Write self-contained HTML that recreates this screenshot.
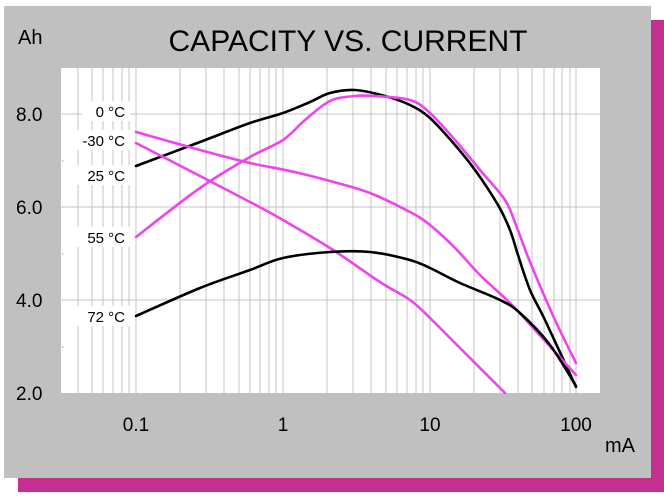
<!DOCTYPE html>
<html><head><meta charset="utf-8"><style>
body{margin:0;width:664px;height:496px;overflow:hidden;background:#fff;font-family:"Liberation Sans",sans-serif}
</style></head><body>
<svg width="664" height="496" viewBox="0 0 664 496" xmlns="http://www.w3.org/2000/svg" font-family="Liberation Sans, sans-serif">
<rect x="18" y="20" width="646" height="472" fill="#c3308f"/>
<rect x="4" y="6" width="647" height="472" fill="#c0c0c0"/>
<rect x="61" y="68" width="539" height="325" fill="#fff"/>
<g stroke="#c4c4c4" stroke-width="1">
<line x1="78" y1="68" x2="78" y2="393"/><line x1="92" y1="68" x2="92" y2="393"/><line x1="103" y1="68" x2="103" y2="393"/><line x1="113" y1="68" x2="113" y2="393"/><line x1="122" y1="68" x2="122" y2="393"/><line x1="129" y1="68" x2="129" y2="393"/><line x1="136" y1="68" x2="136" y2="393"/>
<line x1="180" y1="68" x2="180" y2="393"/><line x1="206" y1="68" x2="206" y2="393"/><line x1="224" y1="68" x2="224" y2="393"/><line x1="239" y1="68" x2="239" y2="393"/><line x1="250" y1="68" x2="250" y2="393"/><line x1="260" y1="68" x2="260" y2="393"/><line x1="269" y1="68" x2="269" y2="393"/><line x1="276" y1="68" x2="276" y2="393"/><line x1="283" y1="68" x2="283" y2="393"/>
<line x1="327" y1="68" x2="327" y2="393"/><line x1="353" y1="68" x2="353" y2="393"/><line x1="371" y1="68" x2="371" y2="393"/><line x1="386" y1="68" x2="386" y2="393"/><line x1="397" y1="68" x2="397" y2="393"/><line x1="407" y1="68" x2="407" y2="393"/><line x1="416" y1="68" x2="416" y2="393"/><line x1="423" y1="68" x2="423" y2="393"/><line x1="430" y1="68" x2="430" y2="393"/>
<line x1="474" y1="68" x2="474" y2="393"/><line x1="500" y1="68" x2="500" y2="393"/><line x1="518" y1="68" x2="518" y2="393"/><line x1="532" y1="68" x2="532" y2="393"/><line x1="544" y1="68" x2="544" y2="393"/><line x1="554" y1="68" x2="554" y2="393"/><line x1="562" y1="68" x2="562" y2="393"/><line x1="570" y1="68" x2="570" y2="393"/><line x1="576" y1="68" x2="576" y2="393"/>
<line x1="61" y1="114" x2="600" y2="114"/><line x1="61" y1="207" x2="600" y2="207"/><line x1="61" y1="300" x2="600" y2="300"/>
<line x1="58" y1="161" x2="64" y2="161"/><line x1="58" y1="254" x2="64" y2="254"/><line x1="58" y1="347" x2="64" y2="347"/>
</g>
<g font-size="15" text-anchor="end" fill="#000">
<rect x="82" y="101" width="48" height="20" fill="#fff"/><text x="125" y="117">0 °C</text>
<rect x="74" y="130" width="56" height="20" fill="#fff"/><text x="125" y="146">-30 °C</text>
<rect x="74" y="165" width="56" height="20" fill="#fff"/><text x="125" y="181">25 °C</text>
<rect x="74" y="227" width="56" height="20" fill="#fff"/><text x="125" y="243">55 °C</text>
<rect x="74" y="306" width="56" height="20" fill="#fff"/><text x="125" y="322">72 °C</text>
</g>
<g id="curves" fill="none" stroke-width="2.6" stroke-linejoin="round" stroke-linecap="round">
<polyline stroke="#000" points="136,166 200,142 250,123 283,113 310,102 330,93 355,90 385,96 410,105 430,118 455,145 475,170 498,205 510,230 518,255 530,290 545,320 576,387"/>
<polyline stroke="#ee44ee" points="136,237 200,188 250,157 283,140 305,120 330,101 355,96 375,96 410,100 430,113 455,140 480,170 505,200 516,225 530,262 555,320 576,363"/>
<polyline stroke="#ee44ee" points="136,132 200,150 250,163 290,171 330,181 370,193 410,212 430,225 455,248 480,275 510,303 535,330 576,375"/>
<polyline stroke="#ee44ee" points="136,143 200,176 250,202 283,220 330,248 380,282 410,300 430,318 460,348 505,393"/>
<polyline stroke="#000" points="136,316 200,288 250,270 283,258 330,252 370,252 410,260 430,268 460,283 500,300 520,313 550,345 576,386"/>
</g>
<text x="348" y="51" font-size="30" text-anchor="middle">CAPACITY VS. CURRENT</text>
<text x="18" y="44" font-size="20">Ah</text>
<g font-size="19" text-anchor="start">
<text x="16" y="121">8.0</text><text x="16" y="214">6.0</text><text x="16" y="307">4.0</text><text x="16" y="400">2.0</text>
</g>
<g font-size="19" text-anchor="middle">
<text x="136" y="431">0.1</text><text x="283" y="431">1</text><text x="430" y="431">10</text><text x="576" y="431">100</text>
</g>
<text x="605" y="452" font-size="20">mA</text>
</svg>
<script>
document.querySelectorAll('#curves polyline').forEach(function(pl){
  var p=pl.getAttribute('points').trim().split(/\s+/).map(function(s){return s.split(',').map(Number);});
  var d='M'+p[0][0]+','+p[0][1];
  for(var i=0;i<p.length-1;i++){
    var p0=p[i-1]||p[i],p1=p[i],p2=p[i+1],p3=p[i+2]||p2;
    var c1=[p1[0]+(p2[0]-p0[0])/6,p1[1]+(p2[1]-p0[1])/6];
    var c2=[p2[0]-(p3[0]-p1[0])/6,p2[1]-(p3[1]-p1[1])/6];
    d+=' C'+c1[0].toFixed(1)+','+c1[1].toFixed(1)+' '+c2[0].toFixed(1)+','+c2[1].toFixed(1)+' '+p2[0]+','+p2[1];
  }
  var path=document.createElementNS('http://www.w3.org/2000/svg','path');
  path.setAttribute('d',d);path.setAttribute('stroke',pl.getAttribute('stroke'));
  pl.parentNode.replaceChild(path,pl);
});
</script>
</body></html>
